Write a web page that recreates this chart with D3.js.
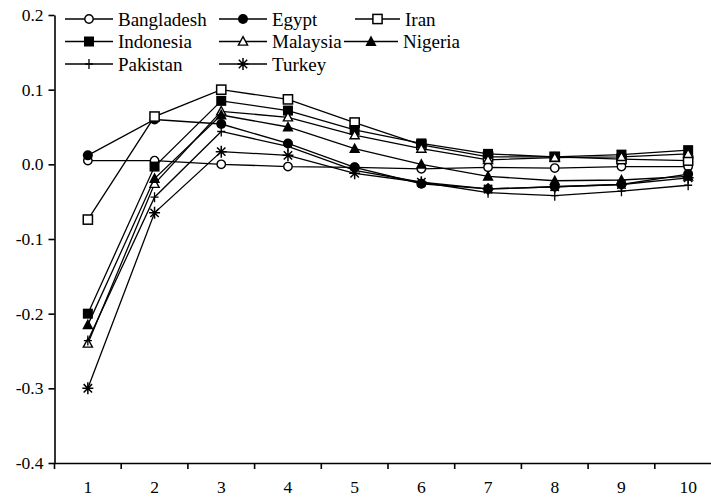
<!DOCTYPE html>
<html>
<head>
<meta charset="utf-8">
<script src="https://cdn.jsdelivr.net/npm/d3@7"></script>
<style>
  html, body { margin: 0; padding: 0; background: #fff; }
  svg text { font-family: "Liberation Serif", "Times New Roman", serif; fill: #000; }
</style>
</head>
<body>
<svg id="chart" width="711" height="499"></svg>
<script>
// Periods on the horizontal axis
const periods = ["1", "2", "3", "4", "5", "6", "7", "8", "9", "10"];
// Vertical axis tick values
const yTicks = [-0.4, -0.3, -0.2, -0.1, 0.0, 0.1, 0.2];

// Country names and marker kinds
const countries = ["Bangladesh", "Egypt", "Iran", "Indonesia", "Malaysia", "Nigeria", "Pakistan", "Turkey"];
const markers = ["circleOpen", "circleFilled", "squareOpen", "squareFilled", "triangleOpen", "triangleFilled", "plus", "star"];

// Response of each country over periods 1..10
const bangladesh = [0.005, 0.005, 0.000, -0.003, -0.004, -0.006, -0.004, -0.005, -0.003, -0.003];
const egypt      = [0.012, 0.060, 0.054, 0.028, -0.004, -0.026, -0.033, -0.030, -0.027, -0.013];
const iran       = [-0.074, 0.064, 0.100, 0.087, 0.056, 0.026, 0.010, 0.010, 0.007, 0.005];
const indonesia  = [-0.200, -0.003, 0.085, 0.072, 0.046, 0.028, 0.014, 0.010, 0.013, 0.019];
const malaysia   = [-0.240, -0.026, 0.071, 0.063, 0.039, 0.021, 0.006, 0.009, 0.010, 0.014];
const nigeria    = [-0.215, -0.019, 0.066, 0.050, 0.021, 0.000, -0.016, -0.022, -0.021, -0.016];
const pakistan   = [-0.236, -0.044, 0.044, 0.024, -0.008, -0.024, -0.038, -0.042, -0.036, -0.028];
const turkey     = [-0.300, -0.065, 0.017, 0.012, -0.012, -0.024, -0.033, -0.030, -0.027, -0.018];

const seriesValues = [bangladesh, egypt, iran, indonesia, malaysia, nigeria, pakistan, turkey];
const series = countries.map((name, i) => ({ name, marker: markers[i], values: seriesValues[i] }));

const svg = d3.select("#chart");

const x = d3.scaleBand().domain(periods).range([54.5, 721.5]).padding(0);
const y = d3.scaleLinear().domain([-0.4, 0.2]).range([463, 15]);
const cx = p => x(p) + x.bandwidth() / 2;

// Marker drawing
function drawMarker(g, kind, px, py) {
  const k = g.append("g").attr("transform", `translate(${px},${py})`);
  switch (kind) {
    case "circleOpen":
      k.append("circle").attr("r", 4.2).attr("fill", "#fff").attr("stroke", "#000").attr("stroke-width", 1.4);
      break;
    case "circleFilled":
      k.append("circle").attr("r", 5).attr("fill", "#000");
      break;
    case "squareOpen":
      k.append("rect").attr("x", -4.6).attr("y", -4.6).attr("width", 9.2).attr("height", 9.2)
        .attr("fill", "#fff").attr("stroke", "#000").attr("stroke-width", 1.5);
      break;
    case "squareFilled":
      k.append("rect").attr("x", -5).attr("y", -5).attr("width", 10).attr("height", 10).attr("fill", "#000");
      break;
    case "triangleOpen":
      k.append("path").attr("d", "M0,-4.8L4.6,3.6L-4.6,3.6Z")
        .attr("fill", "#fff").attr("stroke", "#000").attr("stroke-width", 1.4);
      break;
    case "triangleFilled":
      k.append("path").attr("d", "M0,-6L5.6,4.4L-5.6,4.4Z").attr("fill", "#000");
      break;
    case "plus":
      k.append("path").attr("d", "M-4,0H4M0,-5V5").attr("stroke", "#000").attr("stroke-width", 1.3);
      break;
    case "star":
      k.append("path").attr("d", "M0,-6V6M-5.5,0H5.5M-4.2,-4.2L4.2,4.2M-4.2,4.2L4.2,-4.2")
        .attr("stroke", "#000").attr("stroke-width", 1.5);
      break;
  }
}

// Axes
const yAxis = d3.axisLeft(y).tickValues(yTicks).tickSizeInner(6).tickSizeOuter(0).tickPadding(5)
  .tickFormat(d => d.toFixed(1));
const gy = svg.append("g").attr("transform", "translate(54.5,0)").call(yAxis);
gy.selectAll("text").style("font-size", "17.5px");
gy.selectAll("line, path").attr("stroke", "#000").attr("stroke-width", 1.6);

const xAxis = d3.axisBottom(x).tickSize(0).tickPadding(18);
const gx = svg.append("g").attr("transform", "translate(0,463)").call(xAxis);
gx.selectAll("text").style("font-size", "17.5px");
gx.select(".domain").attr("stroke", "#000").attr("stroke-width", 1.6);
// Boundary ticks between periods
gx.selectAll(".bound").data(periods).enter().append("line")
  .attr("x1", d => x(d)).attr("x2", d => x(d)).attr("y1", 0).attr("y2", 6)
  .attr("stroke", "#000").attr("stroke-width", 1.6);

// Lines
const line = d3.line().x((d, i) => cx(periods[i])).y(d => y(d));
const plot = svg.append("g");
series.forEach(s => {
  plot.append("path").datum(s.values).attr("d", line)
    .attr("fill", "none").attr("stroke", "#000").attr("stroke-width", 1.3);
});
series.forEach(s => {
  s.values.forEach((v, i) => drawMarker(plot, s.marker, cx(periods[i]), y(v)));
});

// Legend
const legendPos = [
  { lx: 65, ly: 19 }, { lx: 219, ly: 19 }, { lx: 355, ly: 19 },
  { lx: 65, ly: 41.5 }, { lx: 219, ly: 41.5 }, { lx: 344, ly: 41.5 },
  { lx: 65, ly: 64 }, { lx: 219, ly: 64 }
];
const legend = svg.append("g");
series.forEach((s, i) => {
  const p = legendPos[i];
  const len = i === 2 ? 45 : (i === 5 ? 54 : 48);
  legend.append("line").attr("x1", p.lx).attr("x2", p.lx + len).attr("y1", p.ly).attr("y2", p.ly)
    .attr("stroke", "#000").attr("stroke-width", 1.4);
  drawMarker(legend, s.marker, p.lx + len / 2, p.ly);
  legend.append("text").attr("x", p.lx + len + 5).attr("y", p.ly).attr("dy", "0.35em")
    .style("font-size", "19px").text(s.name);
});
</script>
</body>
</html>
